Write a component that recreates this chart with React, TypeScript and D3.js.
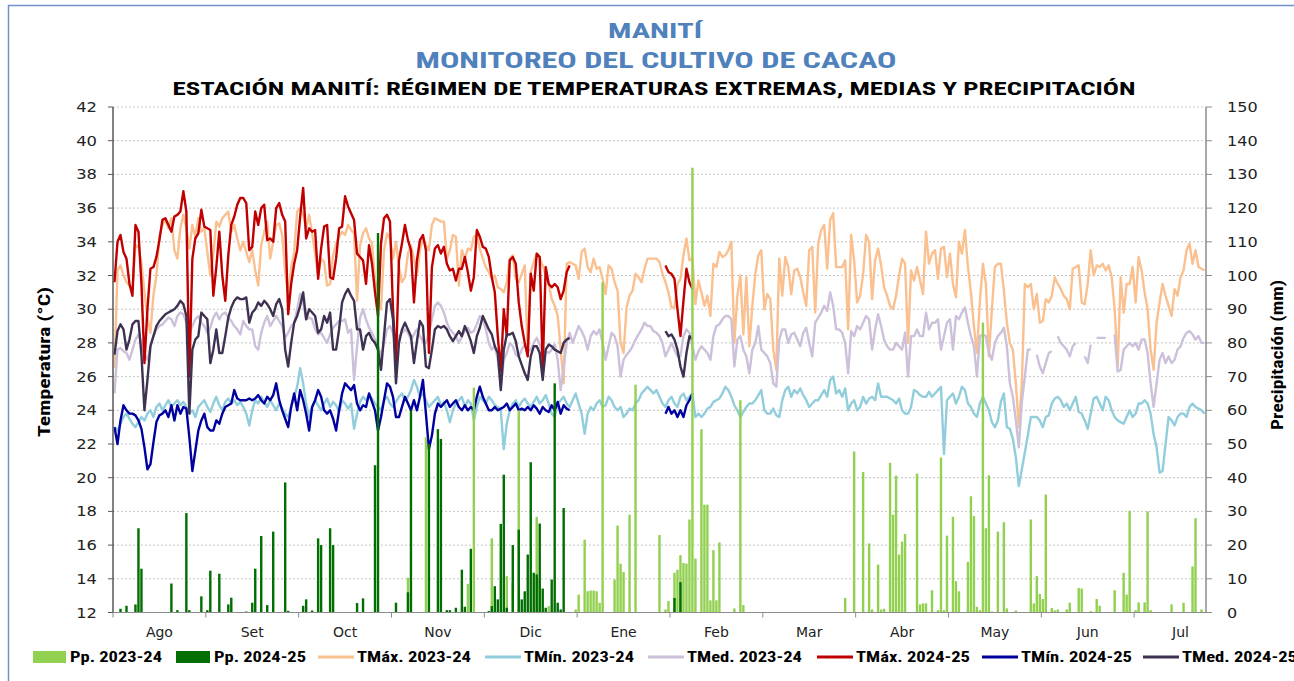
import React from "react";
import * as d3 from "d3";

// ---------- DATA ----------
const MONTHS = ["Ago", "Set", "Oct", "Nov", "Dic", "Ene", "Feb", "Mar", "Abr", "May", "Jun", "Jul"];
const N_DAYS = 365;
const DAYS_PER_BLOCK = 31;
const TEMP_TICKS = [12, 14, 16, 18, 20, 22, 24, 26, 28, 30, 32, 34, 36, 38, 40, 42];
const PP_TICKS = [0, 10, 20, 30, 40, 50, 60, 70, 80, 90, 100, 110, 120, 130, 140, 150];

// 2023-24 daily series (day 0 = 1 Aug)
const TMAX_2324: (number | null)[] = [
  26.5, 32.3, 32.6, 32.0, 31.6, 31.4, 31.2, 33.8, 33.7, 32.7,
  31.0, 29.5, 28.6, 30.8, 32.0, 34.3, 35.0, 35.3, 34.8, 35.4,
  33.5, 33.0, 34.8, 35.6, 34.8, 33.6, 35.0, 34.3, 35.4, 34.6,
  34.8, 33.4, 32.0, 33.2, 35.2, 34.9, 35.4, 35.6, 35.8, 34.6,
  35.0, 34.2, 33.5, 34.0, 33.4, 32.8, 33.5, 32.3, 31.4, 33.8,
  34.6, 35.2, 33.0, 34.0, 35.0, 35.1, 34.4, 32.2, 30.8, 32.5,
  33.4, 35.8, 36.0, 35.6, 34.8, 35.6, 34.5, 33.3, 32.0, 33.0,
  32.8, 31.4, 31.5, 33.2, 33.9, 34.3, 34.6, 34.4, 35.0, 34.7,
  34.5, 30.5, 33.8, 34.5, 34.8, 34.2, 33.9, 31.8, 30.6, 30.0,
  33.5, 34.5, 34.2, 33.0, 34.0, 32.5, 31.6, 31.9, 33.3, 33.8,
  33.0, 32.0, 33.5, 34.2, 33.8, 33.5, 35.0, 35.4, 35.3, 35.2,
  35.2, 33.0, 33.5, 34.4, 34.3, 31.4, 33.5, 33.0, 33.6, 33.5,
  34.3, 34.4, 33.6, 33.0, 32.5, 32.2, 31.8, 32.0, 31.3, 31.2,
  31.0, 31.6, 33.0, 33.2, 31.8, 31.6, 32.1, 32.6, 27.4, 32.2,
  32.8, 33.3, 33.0, 32.6, 32.0, 31.5, 30.6, 30.2, 29.6, 27.6,
  25.6, 32.7, 32.8, 32.7, 32.6, 31.8, 33.4, 33.6, 32.5, 32.2,
  33.0, 32.4, 32.5, 31.8, 30.9, 32.6, 32.4, 31.6, 31.1, 28.0,
  27.4, 30.1, 30.8, 31.1, 32.1, 31.9, 31.6, 32.4, 33.0, 33.0,
  33.0, 33.0, 32.8, 32.1, 31.6, 31.0, 30.1, 30.1, 31.5, 31.8,
  33.2, 34.2, 32.9, 33.0, 30.3, 31.7, 31.0, 30.2, 30.8, 29.6,
  32.7, 32.5, 33.4, 33.1, 33.2, 33.5, 34.0, 28.0, 30.8, 32.0,
  28.5, 31.9, 27.8, 30.2, 32.1, 33.2, 33.5, 30.0, 30.9, 30.6,
  27.6, 26.4, 33.0, 30.8, 33.1, 32.5, 30.9, 32.3, 32.4, 31.9,
  31.0, 30.2, 33.5, 33.7, 29.8, 33.9, 34.7, 35.0, 32.4, 35.3,
  35.7, 32.5, 32.5, 32.5, 32.9, 28.8, 34.4, 32.9, 30.4, 30.8,
  32.1, 34.4, 34.0, 30.6, 32.9, 33.6, 32.6, 31.3, 30.8, 30.2,
  30.0, 30.8, 32.0, 33.0, 32.7, 28.0, 32.3, 31.7, 32.5, 31.7,
  30.9, 34.6, 32.7, 33.3, 33.5, 31.8, 33.6, 33.7, 31.9, 33.3,
  31.5, 30.7, 34.0, 33.3, 34.7, 32.5, 31.0, 29.0, 27.4, 30.5,
  32.7, 31.5, 27.2, 30.0, 32.5, 32.7, 32.7, 31.1, 29.2, 28.0,
  27.6, 25.6, 23.0, 25.6, 31.5, 31.3, 31.5, 30.0, 30.9, 29.2,
  29.3, 30.6, 30.4, 30.8, 31.9, 31.5, 31.2, 30.8, 30.6, 30.0,
  32.4, 32.5, 32.6, 30.4, 30.3, 31.5, 33.5, 32.0, 32.6, 32.5,
  32.7, 32.3, 32.6, 31.9, 30.0, 26.6, 31.9, 29.8, 31.5, 31.5,
  32.5, 30.4, 33.1, 32.3, 31.0, 30.0, 27.6, 26.4, 29.2, 30.4,
  31.5, 30.8, 30.2, 29.6, 31.2, 30.8, 31.9, 32.3, 33.5, 33.9,
  32.7, 33.5, 32.5, 32.4, 32.3,
];

const TMIN_2324: (number | null)[] = [
  23.0, 22.8, 23.2, 23.6, 23.8, 23.5, 23.2, 23.0, 23.3, 23.6,
  23.4, 23.8, 24.0, 23.6, 24.2, 24.4, 24.0, 24.3, 24.6, 24.2,
  24.4, 24.6, 24.3, 24.5, 24.2, 23.8, 24.0, 23.6, 24.2, 24.4,
  24.6, 24.2, 23.9, 24.4, 24.8, 24.3, 24.0, 24.5, 24.7, 24.4,
  24.6, 24.3, 24.5, 24.2, 23.8, 23.1, 24.0, 24.6, 24.4, 24.8,
  24.5, 24.2, 24.6, 24.3, 24.0, 24.4, 24.1, 23.8, 23.6, 24.2,
  24.8, 25.4, 26.5, 25.6, 24.4, 23.6, 24.2, 24.6, 24.3, 24.0,
  24.4, 24.7, 24.2, 24.5, 24.3, 23.9, 24.6, 24.4, 24.1, 24.4,
  22.9, 23.8, 24.5, 24.8, 24.6, 24.9, 24.7, 24.4, 24.2, 24.0,
  24.6, 24.8, 24.4, 24.2, 24.5, 24.8, 25.0, 24.6, 24.8, 25.2,
  25.8, 25.4, 24.8, 25.0, 24.6, 24.2, 24.4, 24.6, 24.8, 24.3,
  24.5, 24.0, 23.3, 24.0, 24.4, 24.6, 24.8, 24.2, 24.6, 24.4,
  23.4, 24.2, 24.8, 24.6, 24.4, 24.8, 24.6, 24.3, 24.2, 24.0,
  21.7, 23.2, 24.0, 24.4, 24.6, 24.2, 24.5, 24.7, 24.4, 24.2,
  24.5, 24.8, 24.4, 24.6, 24.9, 24.4, 23.8, 23.6, 24.4, 24.6,
  24.8, 24.4, 24.2, 24.6, 25.0, 24.4, 23.8, 22.6, 23.8, 24.2,
  24.0, 24.4, 24.6, 24.2, 24.3, 24.8, 24.6, 24.2, 24.0, 24.2,
  23.6, 23.8, 24.1, 24.0, 24.4, 24.6, 25.0, 25.2, 25.4, 25.2,
  25.0, 25.2, 24.8, 24.4, 24.2, 24.6, 24.8, 24.4, 24.2, 24.8,
  25.0, 24.6, 24.8, 25.0, 23.6, 23.8, 23.6, 23.8, 24.1, 24.2,
  24.5, 24.6, 24.7, 25.0, 25.4, 25.2, 24.8, 24.3, 24.0, 23.6,
  23.9, 24.2, 24.4, 24.4, 24.6, 24.9, 25.2, 24.0, 23.8, 23.8,
  24.1, 23.7, 23.6, 24.6, 25.2, 25.4, 24.8, 25.2, 25.0, 25.3,
  24.9, 24.6, 24.2, 24.4, 24.6, 24.6, 24.9, 25.2, 24.8, 25.8,
  26.0, 25.0, 25.2, 24.8, 25.3, 24.0, 24.4, 24.6, 24.0, 24.2,
  24.8, 24.4, 24.7, 24.8, 24.6, 25.6, 24.8, 24.8, 24.8, 24.7,
  24.6, 24.4, 24.7, 24.0, 23.8, 23.8, 24.2, 25.2, 25.1, 24.9,
  24.8, 24.8, 25.1, 24.8, 25.0, 25.2, 25.4, 21.4, 24.6, 24.8,
  25.0, 24.4, 24.8, 25.4, 25.2, 24.4, 24.2, 23.8, 23.6, 24.4,
  24.8, 24.4, 24.0, 23.3, 23.0, 23.4, 24.5, 25.0, 23.0, 22.9,
  22.3, 21.2, 19.5, 20.5, 21.5, 22.5, 23.6, 23.6, 23.6, 23.4,
  23.0, 23.6, 23.7, 24.4, 24.7, 24.8, 24.6, 24.2, 24.4, 24.0,
  24.4, 24.8, 23.9, 23.8, 23.4, 22.9, 23.8, 24.7, 24.8, 24.4,
  24.0, 24.8, 24.6, 24.0, 23.6, 23.4, 23.3, 23.2, 23.6, 24.0,
  23.6, 23.8, 24.4, 24.4, 24.6, 24.4, 23.8, 22.6, 21.8, 20.3,
  20.4, 22.0, 23.6, 23.4, 23.1, 23.6, 23.8, 23.8, 23.6, 24.2,
  24.4, 24.2, 24.1, 24.0, 23.8,
];

const TMED_2324: (number | null)[] = [
  25.0, 27.6, 27.7, 27.5, 27.4, 27.0, 27.6, 28.2, 28.5, 28.0,
  27.3, 27.0, 27.8, 28.4, 28.8, 29.0, 29.1, 29.3, 29.5, 29.4,
  29.0, 29.6, 29.8, 29.7, 29.2, 28.6, 29.0, 29.4, 29.6, 29.2,
  29.0, 28.6, 28.9, 29.5, 29.8, 29.4, 29.7, 29.8, 29.5, 29.3,
  29.0, 28.8, 28.5, 29.3, 29.0, 28.8, 28.8, 27.8, 27.6, 28.6,
  29.2, 29.6, 29.0, 29.3, 29.6, 29.3, 29.0, 28.3, 28.6, 29.0,
  29.2, 30.0, 30.9, 30.4, 29.4, 29.5, 29.4, 28.8, 28.5, 28.6,
  28.3, 28.0, 28.5, 28.9, 29.1, 29.3, 29.3, 29.4, 28.6, 28.8,
  25.8, 27.8, 29.5, 30.0, 29.4, 28.9, 28.6, 28.2, 27.8, 27.2,
  28.0, 28.8, 29.0, 28.6, 27.8, 28.4, 28.6, 28.8, 28.6, 28.2,
  28.5, 28.8, 28.4, 28.1, 28.0, 28.6, 29.4, 30.2, 30.4, 30.2,
  29.8, 29.2, 28.8, 28.6, 28.4, 28.0, 28.4, 28.7, 28.9, 28.6,
  28.7, 29.1, 29.6, 29.4, 28.8, 28.0, 27.6, 27.8, 27.0, 25.4,
  27.0, 27.4, 28.0, 27.8, 27.3, 27.2, 27.6, 27.9, 27.5, 27.6,
  28.0, 28.3, 27.9, 27.2, 27.5, 27.4, 27.6, 27.9, 27.0, 25.2,
  26.5, 28.0, 28.6, 28.0, 28.5, 29.0, 28.7, 28.3, 27.6, 28.4,
  28.7, 28.5, 28.8, 28.0, 27.0, 27.8, 28.6, 28.4, 27.8, 26.0,
  27.0, 27.3, 27.5, 27.8, 28.2, 28.5, 28.8, 29.2, 29.0, 29.0,
  28.7, 28.6, 28.4, 28.0, 27.2, 27.6, 28.0, 27.6, 27.2, 27.2,
  28.4, 28.8, 28.6, 27.8, 27.0, 27.5, 27.8, 27.6, 27.4, 27.0,
  28.4, 29.0, 29.1, 29.4, 29.6, 29.6, 29.4, 26.6, 28.2, 28.4,
  27.6, 27.2, 26.2, 27.6, 28.0, 29.0, 27.6, 27.4, 27.2, 26.8,
  25.6, 25.4, 28.2, 28.8, 28.8, 28.0, 28.5, 28.6, 28.2, 27.8,
  28.6, 28.9, 28.0, 27.2, 29.2, 29.5, 29.8, 30.2, 29.9, 31.0,
  30.2, 28.8, 28.8, 28.6, 28.0, 26.2, 28.7, 28.4, 29.0, 28.8,
  29.2, 29.6, 29.4, 27.6, 28.8, 29.7, 29.0, 28.2, 27.8, 27.6,
  27.6, 28.0, 27.8, 27.6, 28.6, 26.0, 28.4, 28.4, 28.8, 28.4,
  28.4, 29.8, 28.8, 29.2, 29.2, 29.4, 27.6, 28.4, 29.2, 29.4,
  27.6, 29.6, 29.4, 29.8, 30.1, 29.2, 28.4, 27.8, 26.0, 28.4,
  28.5, 28.4, 27.4, 27.0, 28.0, 28.4, 28.6, 28.9, 27.8, 25.6,
  24.8, 23.4, 21.8, 24.5, 26.0, 27.6, 27.6, null, 27.3, 26.6,
  26.2, 26.8, 27.4, 27.5, null, 28.4, 28.0, 27.8, 27.6, 27.2,
  27.8, 28.0, null, null, 27.2, 26.8, 27.9, null, 28.3, 28.3,
  28.3, 28.3, null, null, 28.5, 26.3, 26.4, 27.6, 27.8, 28.0,
  27.8, 28.0, 27.6, 28.2, 28.2, 27.4, 25.6, 24.2, 25.6, 27.0,
  27.4, 26.8, 27.2, 26.8, 27.0, 27.6, 27.8, 28.3, 28.6, 28.7,
  28.5, 28.2, 28.4, 28.0, 28.0,
];

// 2024-25 daily series: main run from day 0, second run from day 184
const START_2425_B = 184;
const TMAX_2425_A: number[] = [
  31.6, 34.0, 34.4, 33.4, 33.0, 31.5, 30.8, 35.0, 34.6, 31.5,
  26.8, 30.0, 32.4, 32.5, 33.1, 34.1, 35.3, 35.4, 35.0, 34.6,
  35.5, 35.6, 35.8, 37.0, 35.8, 26.0, 33.0, 34.2, 34.5, 35.9,
  34.9, 34.8, 34.7, 30.8, 32.5, 34.6, 32.0, 30.5, 33.2, 35.0,
  35.5, 36.2, 36.6, 36.6, 36.3, 33.5, 33.7, 35.8, 35.0, 36.0,
  36.2, 34.1, 34.2, 34.0, 36.0, 36.3, 35.6, 35.2, 29.7, 31.5,
  32.7, 33.5, 35.5, 37.2, 34.2, 34.8, 34.6, 34.7, 31.8, 33.6,
  34.9, 35.0, 31.9, 31.8, 33.0, 34.8, 34.9, 36.7, 36.1, 35.7,
  35.3, 33.3, 33.1, 32.9, 31.5, 33.8, 32.7, 31.0, 29.6, 33.9,
  35.4, 35.6, 35.2, 30.0, 26.8, 32.9, 33.9, 35.0, 34.1, 33.5,
  30.4, 32.9, 34.1, 34.4, 33.5, 27.4, 32.5, 33.6, 33.8, 33.3,
  33.7, 32.7, 32.3, 32.4, 31.7, 32.4, 32.4, 33.1, 32.2, 31.1,
  31.9, 34.7, 34.3, 33.7, 33.6, 33.1, 31.9, 31.0, 28.4, 26.3,
  30.0, 28.4, 32.9, 33.1, 32.7, 30.4, 29.0, 28.0, 27.2, 32.1,
  31.1, 33.3, 33.1, 26.5, 32.5, 31.5, 31.3, 31.5, 31.3, 30.6,
  31.1, 32.2, 32.6,
];
const TMAX_2425_B: number[] = [32.6, 32.2, 32.1, 31.8, 30.0, 28.4, 30.5, 32.4, 31.6, 31.2];

const TMIN_2425_A: number[] = [
  23.0, 22.0, 23.4, 24.3, 24.0, 23.8, 23.8, 23.7, 23.4, 22.9,
  21.8, 20.5, 20.8, 22.1, 23.3, 23.7, 23.8, 24.0, 23.6, 24.3,
  23.4, 24.3, 23.8, 24.2, 24.1, 22.4, 20.4, 21.6, 22.8, 23.4,
  23.8, 23.0, 22.8, 22.8, 23.4, 23.2, 23.8, 24.2, 24.3, 24.4,
  25.2, 24.7, 24.6, 24.6, 24.6, 24.7, 24.6, 24.7, 24.9, 24.6,
  24.4, 24.8, 24.6, 24.9, 25.6, 24.6, 24.0, 23.5, 23.0, 24.2,
  25.0, 24.0, 25.2, 24.6, 23.8, 22.8, 24.2, 24.6, 25.2, 24.8,
  24.0, 23.8, 24.0, 23.5, 22.8, 24.0, 25.0, 25.6, 25.4, 25.2,
  25.5, 24.4, 24.0, 24.3, 24.2, 25.0, 24.5, 24.0, 22.8, 23.6,
  24.6, 25.6, 25.4, 24.8, 23.6, 23.6, 24.2, 24.8, 24.4, 24.0,
  24.6, 24.0, 24.8, 25.8, 23.8, 21.7, 22.5, 23.8, 24.4, 24.2,
  24.4, 24.6, 24.2, 24.4, 24.6, 24.2, 24.0, 24.3, 24.0, 24.2,
  24.0, 24.8, 25.4, 24.8, 24.4, 24.0, 24.0, 24.2, 24.0, 24.1,
  24.2, 24.4, 24.0, 24.2, 24.4, 24.0, 24.1, 24.0, 24.2, 24.0,
  24.3, 24.1, 23.8, 24.2, 24.0, 23.9, 24.3, 24.0, 24.5, 23.8,
  24.3, 24.1, 24.0,
];
const TMIN_2425_B: number[] = [23.8, 24.2, 23.8, 24.0, 23.6, 24.0, 23.6, 24.3, 24.6, 25.0];

const TMED_2425_A: number[] = [
  27.3, 28.7, 29.1, 28.8, 27.6, 28.2, 29.1, 29.3, 29.3, 27.3,
  24.0, 25.8, 27.8, 28.4, 29.0, 29.3, 29.5, 29.7, 29.8, 29.9,
  30.0, 30.2, 30.5, 30.3, 29.6, 23.8, 27.6, 28.2, 28.4, 29.8,
  29.6, 29.4, 26.8, 27.6, 28.8, 27.4, 27.4, 28.4, 29.5, 30.1,
  30.5, 30.7, 30.6, 30.6, 30.7, 29.2, 29.8, 30.0, 30.4, 30.2,
  30.5, 30.3, 30.0, 29.6, 30.3, 30.6, 30.0, 27.6, 26.6, 28.0,
  29.2, 29.6, 30.2, 31.0, 29.4, 30.0, 29.8, 29.6, 28.6, 28.8,
  29.6, 29.2, 29.8, 27.6, 27.6, 28.8, 30.4, 30.9, 31.2, 30.8,
  30.5, 28.8, 28.8, 27.6, 28.4, 28.6, 28.2, 28.0, 27.6, 26.4,
  28.4, 30.4, 30.6, 29.4, 25.6, 28.0, 28.8, 29.2, 28.8, 28.4,
  26.8, 28.1, 29.3, 29.0, 26.6, 26.5, 27.6, 28.8, 29.0, 28.9,
  29.0, 28.8, 28.4, 28.1, 28.4, 28.7, 28.4, 29.0, 28.6, 28.1,
  27.4, 28.4, 28.9, 29.6, 29.2, 28.8, 28.5, 27.8, 27.4, 25.2,
  27.6, 28.5, 28.5, 28.6, 28.1, 27.2, 26.7, 26.2, 25.8, 27.2,
  27.8, 27.8, 27.4, 25.8, 27.6, 27.9, 27.8, 27.6, 27.5, 27.4,
  28.0, 28.2, 28.3,
];
const TMED_2425_B: number[] = [28.7, 28.4, 28.5, 28.2, 27.6, 26.6, 26.0, 27.4, 28.4, 28.2];

// Precipitation [day, mm]
const PP_2324: [number, number][] = [
  [98, 10.3], [104, 52], [118, 8.5], [120, 66.7], [126, 22], [131, 10.8], [133, 8.8], [135, 60],
  [141, 28.4], [142, 9.8], [145, 1.9], [154, 0.9], [155, 5.3], [157, 21.6], [158, 6.3], [159, 6.5],
  [160, 6.5], [161, 6.3], [162, 2.9], [163, 98], [167, 9.8], [168, 25.8], [169, 14.5], [170, 12],
  [172, 29], [174, 67.6], [182, 23], [184, 0.9], [185, 3.4], [187, 11.8], [188, 12.7], [189, 17],
  [190, 14.7], [191, 14.5], [192, 27.6], [193, 132], [194, 16], [196, 54.4], [197, 32], [198, 32],
  [199, 3.6], [200, 18.5], [201, 3.6], [202, 20.8], [207, 1.2], [209, 63], [210, 2.2],
  [244, 4.3], [247, 47.8], [250, 41.7], [252, 20.5], [253, 0.9], [255, 14.2], [256, 0.9], [257, 1.1],
  [259, 44.4], [260, 29], [261, 40.6], [262, 17.2], [263, 21], [264, 23.3], [268, 41.2], [269, 2.4],
  [270, 2.7], [271, 2.7], [273, 6.6], [275, 0.7], [276, 46], [277, 0.7], [278, 22.8], [280, 28.4],
  [281, 9.3], [282, 6.3], [285, 15], [286, 34.5], [287, 28.6], [288, 1.7], [289, 0.7], [290, 86],
  [291, 25], [292, 40.7], [293, 0.3], [295, 24], [297, 26.8], [298, 1.2], [301, 0.6], [306, 27.6],
  [307, 2.7], [308, 10.8], [309, 5.5], [310, 4], [311, 35], [313, 1.3], [314, 0.6], [315, 0.9],
  [318, 0.9], [319, 2.9], [322, 7.3], [323, 7.1], [326, 0.4], [328, 4], [329, 2], [334, 6.6],
  [337, 11.8], [338, 5.3], [339, 30.2], [341, 0.7], [342, 3], [344, 3], [345, 30], [346, 0.7],
  [353, 2.4], [357, 2.9], [360, 13.7], [361, 28], [363, 0.9],
];
const PP_2425: [number, number][] = [
  [2, 1.1], [4, 2], [7, 2.4], [8, 25], [9, 13], [19, 8.6], [21, 0.7], [24, 29.5], [25, 0.7],
  [29, 4.8], [31, 0.7], [32, 12.4], [35, 11.5], [38, 2.4], [39, 4.4], [44, 0.3], [46, 2.9], [47, 13],
  [49, 22.7], [51, 2.2], [53, 24], [57, 38.6], [58, 0.5], [63, 2], [64, 3.9], [66, 0.6], [68, 22],
  [69, 20], [72, 25], [73, 20], [81, 2.8], [83, 4.2], [87, 43.7], [88, 112.6], [94, 2.9], [98, 6],
  [99, 60], [105, 50], [108, 54.4], [109, 51.5], [111, 0.7], [112, 0.7], [114, 1.4], [116, 12.7],
  [117, 1.7], [119, 18.9], [125, 0.4], [126, 1.9], [127, 7.8], [128, 3.9], [129, 26.3], [130, 40.9],
  [131, 1.4], [133, 20], [135, 24.6], [136, 3.9], [137, 6.3], [138, 17.2], [139, 44.6], [140, 11.8],
  [141, 11.3], [142, 26.4], [143, 7.1], [144, 1.4], [146, 9.8], [147, 68], [148, 2.9], [149, 0.9],
  [150, 31], [187, 4.3], [189, 9],
];

// ---------- STYLE ----------
const C = {
  pp2324: "#92d050",
  pp2425: "#006e00",
  tmax2324: "#fac090",
  tmin2324: "#92cddc",
  tmed2324: "#ccc0da",
  tmax2425: "#c00000",
  tmin2425: "#0000a0",
  tmed2425: "#3f3151",
  title: "#4f81bd",
};
const NARROW = "'Liberation Sans Narrow', 'Arial Narrow', 'Roboto Condensed', 'Liberation Sans', Arial, sans-serif";
const AXISF = "'DejaVu Sans', Verdana, sans-serif";

export default function App() {
  const W = 1294, H = 681;
  const L = 113, R = 1206, T = 107, B = 612.5;

  const x = d3.scaleLinear().domain([0, N_DAYS]).range([L, R]);
  const yT = d3.scaleLinear().domain([12, 42]).range([B, T]);
  const yP = d3.scaleLinear().domain([0, 150]).range([B, T]);

  const mkLine = (offset: number) =>
    d3.line<number | null>()
      .defined((v) => v !== null && v !== undefined)
      .x((_, i) => x(offset + i + 0.5))
      .y((v) => yT(v as number));

  const lines = [
    { d: TMAX_2324, o: 0, c: C.tmax2324 },
    { d: TMIN_2324, o: 0, c: C.tmin2324 },
    { d: TMED_2324, o: 0, c: C.tmed2324 },
    { d: TMAX_2425_A, o: 0, c: C.tmax2425 },
    { d: TMAX_2425_B, o: START_2425_B, c: C.tmax2425 },
    { d: TMIN_2425_A, o: 0, c: C.tmin2425 },
    { d: TMIN_2425_B, o: START_2425_B, c: C.tmin2425 },
    { d: TMED_2425_A, o: 0, c: C.tmed2425 },
    { d: TMED_2425_B, o: START_2425_B, c: C.tmed2425 },
  ];

  const bw = 2.4;
  const blockTicks = d3.range(0, N_DAYS, DAYS_PER_BLOCK);

  const legend = [
    { kind: "rect", c: C.pp2324, label: "Pp. 2023-24", s0: 33, s1: 66, tx: 70, tw: 92 },
    { kind: "rect", c: C.pp2425, label: "Pp. 2024-25", s0: 176, s1: 210, tx: 214, tw: 92 },
    { kind: "line", c: C.tmax2324, label: "TMáx. 2023-24", s0: 318, s1: 354, tx: 357, tw: 114 },
    { kind: "line", c: C.tmin2324, label: "TMín. 2023-24", s0: 485, s1: 521, tx: 524, tw: 110 },
    { kind: "line", c: C.tmed2324, label: "TMed. 2023-24", s0: 648, s1: 684, tx: 687, tw: 115 },
    { kind: "line", c: C.tmax2425, label: "TMáx. 2024-25", s0: 817, s1: 853, tx: 856, tw: 114 },
    { kind: "line", c: C.tmin2425, label: "TMín. 2024-25", s0: 982, s1: 1018, tx: 1021, tw: 111 },
    { kind: "line", c: C.tmed2425, label: "TMed. 2024-25", s0: 1143, s1: 1179, tx: 1182, tw: 115 },
  ];

  return (
    <svg width={W} height={H} style={{ position: "absolute", left: 0, top: 0, background: "#fff" }}>
      <rect x={0} y={0} width={W} height={H} fill="#fff" />
      <path d={`M8.5,${H} V5.5 H${W}`} fill="none" stroke="#6f93c9" strokeWidth={1.5} />

      {/* titles */}
      <text x={655} y={38} textAnchor="middle" fontFamily={NARROW} fontWeight="bold" fontSize={21} fill={C.title} textLength={94} lengthAdjust="spacingAndGlyphs">MANITÍ</text>
      <text x={656} y={68} textAnchor="middle" fontFamily={NARROW} fontWeight="bold" fontSize={22} fill={C.title} textLength={481} lengthAdjust="spacingAndGlyphs">MONITOREO DEL CULTIVO DE CACAO</text>
      <text x={654} y={95} textAnchor="middle" fontFamily={NARROW} fontWeight="bold" fontSize={19} fill="#000" textLength={963} lengthAdjust="spacingAndGlyphs">ESTACIÓN MANITÍ: RÉGIMEN DE TEMPERATURAS EXTREMAS, MEDIAS Y PRECIPITACIÓN</text>

      {/* gridlines */}
      {TEMP_TICKS.filter((t) => t > 12).map((t) => (
        <line key={"g" + t} x1={L} x2={R} y1={yT(t)} y2={yT(t)} stroke="#c6c6c6" strokeWidth={1} strokeDasharray="2,2" />
      ))}

      {/* lines */}
      {lines.map((l, i) => (
        <path key={"l" + i} d={mkLine(l.o)(l.d as (number | null)[]) || ""} fill="none" stroke={l.c} strokeWidth={2.4} strokeLinejoin="round" />
      ))}

      {/* precipitation bars */}
      {PP_2324.map(([d, v]) => (
        <rect key={"a" + d} x={x(d + 0.5) - bw / 2} y={yP(v)} width={bw} height={yP(0) - yP(v)} fill={C.pp2324} />
      ))}
      {PP_2425.map(([d, v]) => (
        <rect key={"b" + d} x={x(d + 0.5) - bw / 2} y={yP(v)} width={bw} height={yP(0) - yP(v)} fill={C.pp2425} />
      ))}

      {/* axes */}
      <line x1={L} x2={L} y1={T} y2={B} stroke="#595959" strokeWidth={1.5} />
      <line x1={R} x2={R} y1={T} y2={B} stroke="#8c8c8c" strokeWidth={1.5} />
      <line x1={L} x2={R} y1={B} y2={B} stroke="#8c8c8c" strokeWidth={1.2} />
      {TEMP_TICKS.map((t) => (
        <g key={"lt" + t}>
          <line x1={L - 5} x2={L} y1={yT(t)} y2={yT(t)} stroke="#595959" strokeWidth={1} />
          <text x={97} y={yT(t)} dy="0.36em" textAnchor="end" fontFamily={AXISF} fontSize={14} fill="#222" textLength={String(t).length * 10.4} lengthAdjust="spacingAndGlyphs">{t}</text>
        </g>
      ))}
      {PP_TICKS.map((p) => (
        <g key={"rt" + p}>
          <line x1={R} x2={R + 6} y1={yP(p)} y2={yP(p)} stroke="#8c8c8c" strokeWidth={1} />
          <text x={1227} y={yP(p)} dy="0.36em" textAnchor="start" fontFamily={AXISF} fontSize={14} fill="#222" textLength={String(p).length * 10.2} lengthAdjust="spacingAndGlyphs">{p}</text>
        </g>
      ))}
      {blockTicks.map((d) => (
        <line key={"xt" + d} x1={x(d)} x2={x(d)} y1={B} y2={B + 5} stroke="#8c8c8c" strokeWidth={1} />
      ))}
      {MONTHS.map((m, i) => (
        <text key={m} x={x(i * DAYS_PER_BLOCK + DAYS_PER_BLOCK / 2)} y={637} textAnchor="middle" fontFamily={AXISF} fontSize={14} fill="#222">{m}</text>
      ))}

      {/* axis titles */}
      <text transform={`translate(50,362) rotate(-90)`} textAnchor="middle" fontFamily={NARROW} fontWeight="bold" fontSize={17} fill="#000" textLength={150} lengthAdjust="spacingAndGlyphs">Temperatura (°C)</text>
      <text transform={`translate(1283,355) rotate(-90)`} textAnchor="middle" fontFamily={NARROW} fontWeight="bold" fontSize={17} fill="#000" textLength={150} lengthAdjust="spacingAndGlyphs">Precipitación (mm)</text>

      {/* legend */}
      {legend.map((g) => (
        <g key={g.label}>
          {g.kind === "rect" ? (
            <rect x={g.s0} y={651} width={g.s1 - g.s0} height={12} fill={g.c} />
          ) : (
            <line x1={g.s0} x2={g.s1} y1={657} y2={657} stroke={g.c} strokeWidth={3} />
          )}
          <text x={g.tx} y={662} fontFamily={NARROW} fontWeight="bold" fontSize={15} fill="#000" textLength={g.tw} lengthAdjust="spacingAndGlyphs">{g.label}</text>
        </g>
      ))}
    </svg>
  );
}
